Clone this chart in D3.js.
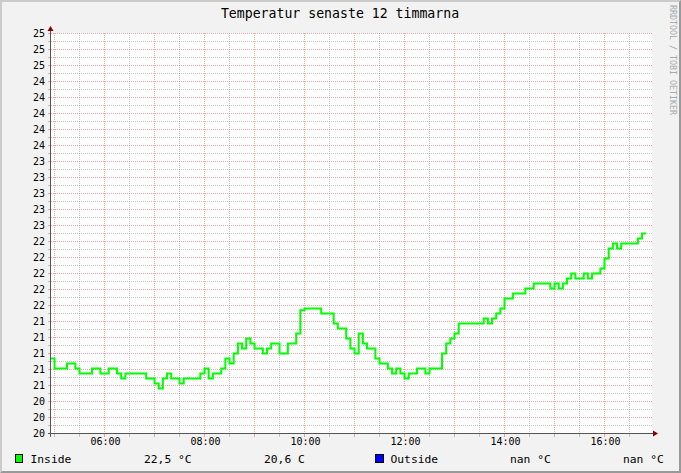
<!DOCTYPE html>
<html>
<head>
<meta charset="utf-8">
<script src="https://cdn.jsdelivr.net/npm/d3@7"></script>
<style>
  html, body { margin: 0; padding: 0; background: #f2f2f2; }
  svg { display: block; }
  text { font-family: "DejaVu Sans Mono", monospace; }
</style>
</head>
<body>
<div id="chart"></div>
<script>
// ---- data ----
const title = "Temperatur senaste 12 timmarna";
const watermark = "RRDTOOL / TOBI OETIKER";
const windowStart = "04:56";      // left edge of the 12 h window
const windowEnd = "16:56";        // right edge
const sampleStart = "04:55";      // first 5-minute sample
const sampleStepMinutes = 5;
const insideValues = [
  20.9375, 20.8125, 20.8125, 20.8125, 20.875, 20.875, 20.8125, 20.75, 20.75, 20.75,
  20.8125, 20.8125, 20.75, 20.75, 20.8125, 20.8125, 20.75, 20.6875, 20.75, 20.75,
  20.75, 20.75, 20.75, 20.6875, 20.6875, 20.625, 20.5625, 20.6875, 20.75, 20.6875,
  20.6875, 20.625, 20.6875, 20.6875, 20.6875, 20.6875, 20.75, 20.8125, 20.6875, 20.75,
  20.75, 20.8125, 20.9375, 20.875, 21.0, 21.125, 21.0625, 21.1875, 21.125, 21.0625,
  21.0625, 21.0, 21.0625, 21.125, 21.125, 21.0, 21.0, 21.125, 21.125, 21.25,
  21.54, 21.5625, 21.5625, 21.5625, 21.5625, 21.5, 21.5, 21.5, 21.375, 21.3125,
  21.3125, 21.1875, 21.0625, 21.0, 21.25, 21.125, 21.0625, 21.0625, 20.9375, 20.875,
  20.875, 20.8125, 20.75, 20.8125, 20.75, 20.6875, 20.75, 20.75, 20.8125, 20.8125,
  20.75, 20.8125, 20.8125, 20.8125, 21.0, 21.125, 21.1875, 21.25, 21.375, 21.375,
  21.375, 21.375, 21.375, 21.375, 21.4375, 21.375, 21.4375, 21.5, 21.5625, 21.6875,
  21.6875, 21.75, 21.75, 21.75, 21.8125, 21.8125, 21.875, 21.875, 21.875, 21.875,
  21.8125, 21.875, 21.8125, 21.875, 21.9375, 22.0, 21.9375, 21.9375, 22.0, 21.9375,
  22.0, 22.0, 22.0625, 22.1875, 22.3125, 22.375, 22.3125, 22.375, 22.375, 22.375,
  22.375, 22.4375, 22.5
];
const outsideValues = [];   // no data (nan)
const yMin = 20, yMax = 25;
const yMajorStep = 0.2, yMinorStep = 0.1;
const xLabelTimes = ["06:00", "08:00", "10:00", "12:00", "14:00", "16:00"];
const seriesNames = ["Inside", "Outside"];
const seriesColors = ["#00ff00", "#0000ff"];
const unit = "°C";

// ---- helpers ----
const day = "2000-01-01T";
const parseT = s => new Date(day + s + ":00");
const t0 = parseT(windowStart), t1 = parseT(windowEnd);
const s0 = parseT(sampleStart);
const insideData = insideValues.map((v, i) => ({ t: new Date(+s0 + i * sampleStepMinutes * 60000), v }));
// extend the last step to the end of its interval
insideData.push({ t: new Date(+s0 + insideValues.length * sampleStepMinutes * 60000), v: insideValues[insideValues.length - 1] });

const W = 681, H = 473;
const plot = { left: 51, right: 652, top: 33, bottom: 434 };

const x = d3.scaleTime().domain([t0, t1]).range([51.2, 651.2]);
const y = d3.scaleLinear().domain([yMin, yMax]).range([433.5, 33.5]);
const px = v => Math.floor(v) + 0.5;

const svg = d3.select("#chart").append("svg").attr("width", W).attr("height", H);

// background + 3D border
svg.append("rect").attr("x", 0).attr("y", 0).attr("width", W).attr("height", H).attr("fill", "#f2f2f2");
svg.append("path").attr("d", `M0,${H} V0 H${W} V2 H2 V${H - 2} Z`).attr("fill", "#cbcbcb");
svg.append("path").attr("d", `M${W},0 V${H} H0 L2,${H - 2} H${W - 2} V2 Z`).attr("fill", "#999999");

// canvas
svg.append("rect").attr("x", plot.left).attr("y", plot.top)
  .attr("width", plot.right - plot.left).attr("height", plot.bottom - plot.top).attr("fill", "#ffffff");

const grid = svg.append("g").attr("shape-rendering", "crispEdges");
const minorCol = "rgba(143,143,143,0.5)", majorCol = "rgba(222,80,80,0.5)";

// horizontal grid
const nMinor = Math.round((yMax - yMin) / yMinorStep);
d3.range(nMinor + 1).forEach(k => {
  const v = yMin + k * yMinorStep;
  const isMajor = k % Math.round(yMajorStep / yMinorStep) === 0;
  const yy = px(y(v));
  grid.append("line").attr("x1", plot.left).attr("x2", plot.right).attr("y1", yy).attr("y2", yy)
    .attr("stroke", isMajor ? majorCol : minorCol).attr("stroke-dasharray", "1,1");
  grid.append("line").attr("x1", 48).attr("x2", plot.left).attr("y1", yy).attr("y2", yy)
    .attr("stroke", isMajor ? majorCol : minorCol);
});

// vertical grid (minor every 30 min, major every hour)
x.ticks(d3.timeMinute.every(30)).forEach(t => {
  const xx = px(x(t));
  if (xx < plot.left || xx > plot.right) return;
  const isMajor = t.getMinutes() === 0;
  grid.append("line").attr("x1", xx).attr("x2", xx).attr("y1", plot.top).attr("y2", plot.bottom)
    .attr("stroke", isMajor ? majorCol : minorCol).attr("stroke-dasharray", "1,1");
  grid.append("line").attr("x1", xx).attr("x2", xx).attr("y1", plot.bottom).attr("y2", 437)
    .attr("stroke", isMajor ? majorCol : minorCol);
});

// y labels
d3.range(Math.round((yMax - yMin) / yMajorStep) + 1).forEach(k => {
  const v = yMin + k * yMajorStep;
  svg.append("text").attr("x", 45).attr("y", y(v) + 3.5)
    .attr("text-anchor", "end").attr("font-size", "10px").attr("fill", "#000")
    .text(d3.format(".0f")(v));
});

// x labels
xLabelTimes.forEach(s => {
  const t = parseT(s);
  svg.append("text").attr("x", px(x(t)) + 1).attr("y", 445)
    .attr("text-anchor", "middle").attr("font-size", "10px").attr("fill", "#000")
    .text(s);
});

// data line
const clip = svg.append("clipPath").attr("id", "clip").append("rect")
  .attr("x", plot.left).attr("y", plot.top).attr("width", plot.right - plot.left).attr("height", plot.bottom - plot.top);
const line = d3.line().x(d => x(d.t)).y(d => y(d.v)).curve(d3.curveStepAfter);
svg.append("path").datum(insideData).attr("clip-path", "url(#clip)")
  .attr("d", line).attr("fill", "none").attr("stroke", seriesColors[0]).attr("stroke-width", 2)
  .attr("stroke-linejoin", "miter");

// axes
const axisG = svg.append("g").attr("shape-rendering", "crispEdges");
axisG.append("line").attr("x1", 48).attr("x2", 654).attr("y1", 433.5).attr("y2", 433.5).attr("stroke", "#555");
axisG.append("line").attr("x1", 50.5).attr("x2", 50.5).attr("y1", 437).attr("y2", 30).attr("stroke", "#555");
svg.append("path").attr("d", "M653,430.5 L658,433.5 L653,436.5 Z").attr("fill", "#8b0000");
svg.append("path").attr("d", "M47.5,31 L50.5,26 L53.5,31 Z").attr("fill", "#8b0000");

// title
svg.append("text").attr("x", 340).attr("y", 18).attr("text-anchor", "middle")
  .attr("font-size", "13.2px").attr("fill", "#000").text(title);

// watermark
svg.append("text").attr("transform", "translate(669.5,5) rotate(90)")
  .attr("font-size", "8.3px").attr("fill", "#a8a8a8").text(watermark);

// legend
const fmt = v => (v == null || isNaN(v)) ? "nan" : v.toFixed(1).replace(".", ",");
const insideMax = d3.max(insideValues), insideMin = d3.min(insideValues);
const outsideMax = d3.max(outsideValues), outsideMin = d3.min(outsideValues);
const legend = svg.append("g").attr("font-size", "11.3px").attr("fill", "#000");
legend.append("rect").attr("x", 15.5).attr("y", 454.5).attr("width", 7).attr("height", 8)
  .attr("fill", seriesColors[0]).attr("stroke", "#000").attr("shape-rendering", "crispEdges");
legend.append("text").attr("x", 30.5).attr("y", 462.5).text(seriesNames[0]);
legend.append("text").attr("x", 144).attr("y", 462.5).text(fmt(insideMax) + " " + unit);
legend.append("text").attr("x", 264).attr("y", 462.5).text(fmt(insideMin) + " C");
legend.append("rect").attr("x", 375.5).attr("y", 454.5).attr("width", 8).attr("height", 8)
  .attr("fill", seriesColors[1]).attr("stroke", "#000").attr("shape-rendering", "crispEdges");
legend.append("text").attr("x", 390.5).attr("y", 462.5).text(seriesNames[1]);
legend.append("text").attr("x", 510).attr("y", 462.5).text(fmt(outsideMax) + " " + unit);
legend.append("text").attr("x", 623).attr("y", 462.5).text(fmt(outsideMin) + " " + unit);
</script>
</body>
</html>
